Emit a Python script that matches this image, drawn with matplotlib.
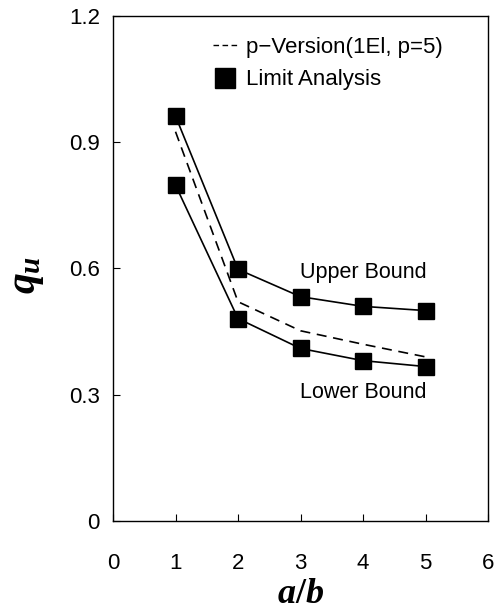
import matplotlib
matplotlib.use("Agg")
import matplotlib.pyplot as plt
from matplotlib.lines import Line2D

# data
ratio = [1, 2, 3, 4, 5]
upper_bound = [0.962, 0.598, 0.533, 0.510, 0.500]
lower_bound = [0.798, 0.481, 0.410, 0.381, 0.367]
p_version = [0.925, 0.521, 0.452, 0.420, 0.390]

x_ticks = [0, 1, 2, 3, 4, 5, 6]
y_ticks = [0, 0.3, 0.6, 0.9, 1.2]
y_tick_labels = ["0", "0.3", "0.6", "0.9", "1.2"]

plt.rcParams['font.family'] = ['Liberation Sans', 'DejaVu Sans']
plt.rcParams['mathtext.fontset'] = 'custom'
plt.rcParams['mathtext.it'] = 'Liberation Serif:italic:bold'
plt.rcParams['mathtext.rm'] = 'Liberation Serif:bold'

fig = plt.figure(figsize=(4.99, 6.10), dpi=100)
ax = fig.add_axes([0.2265, 0.1459, 0.7515, 0.8279])

# solid bounds with square markers
ax.plot(ratio, upper_bound, color='black', lw=1.2, marker='s', ms=11.5,
        mfc='black', mec='black')
ax.plot(ratio, lower_bound, color='black', lw=1.2, marker='s', ms=11.5,
        mfc='black', mec='black')
# p-version line
ax.plot(ratio, p_version, color='black', lw=1.2, dashes=(6, 4))

ax.text(4.0, 0.590, "Upper Bound", fontsize=15.5, ha='center', va='center')
ax.text(4.0, 0.305, "Lower Bound", fontsize=15.5, ha='center', va='center')

handles = [Line2D([], [], color='black', lw=1.0, dashes=(4, 2.5)),
           Line2D([], [], color='black', lw=0, marker='s', ms=15)]
ax.legend(handles, ["p\u2212Version(1El, p=5)", "Limit Analysis"],
          loc='upper left', bbox_to_anchor=(0.267, 0.958), frameon=False,
          fontsize=16, handlelength=1.1, handletextpad=0.36,
          labelspacing=0.5, borderpad=0, borderaxespad=0)

ax.set_xlim(0, 6)
ax.set_ylim(0, 1.2)
ax.set_xticks(x_ticks)
ax.set_yticks(y_ticks)
ax.set_yticklabels(y_tick_labels)
ax.tick_params(direction='in', length=5, width=0.8, labelsize=16,
               top=False, right=False)
ax.tick_params(axis='x', pad=23)
ax.tick_params(axis='y', pad=9.5)
for s in ax.spines.values():
    s.set_linewidth(1.0)

ax.set_xlabel(r"$a/b$", fontsize=26)
ax.set_ylabel(r"$q_u$", fontsize=30)
ax.xaxis.set_label_coords(0.5, -0.108)
ax.yaxis.set_label_coords(-0.18, 0.487)

fig.savefig("out.png", dpi=100)
